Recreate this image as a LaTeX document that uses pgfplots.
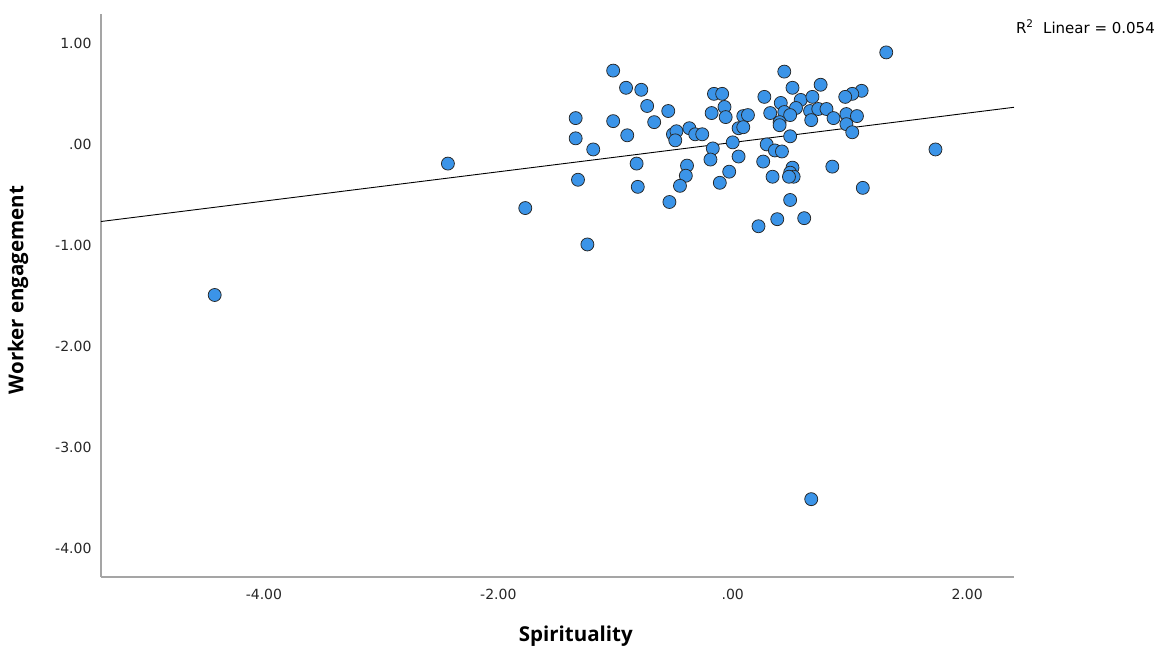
\documentclass[border=0pt]{standalone}
\usepackage{fontspec}
\setmainfont{DejaVu Sans}
\newfontfamily\labelfont{Open Sans}
\usepackage{pgfplots}
\pgfplotsset{compat=1.18}
\definecolor{ptblue}{RGB}{59,148,232}
\definecolor{axgray}{RGB}{165,165,165}
\begin{document}
\begin{tikzpicture}[x=1pt,y=1pt]
\useasboundingbox (-101,-79) rectangle (1075,577);
\begin{axis}[
  at={(0,0)}, anchor=south west,
  scale only axis, width=913pt, height=563pt,
  xmin=-5.39, xmax=2.40, ymin=-4.28, ymax=1.29,
  axis x line*=bottom, axis y line*=left,
  axis line style={axgray, line width=1.5pt, -},
  xtick={-4,-2,0,2}, xticklabels={-4.00,-2.00,.00,2.00},
  ytick={-4,-3,-2,-1,0,1}, yticklabels={-4.00,-3.00,-2.00,-1.00,.00,1.00},
  major tick length=0pt,
  tick label style={font=\fontsize{14}{16}\selectfont, text=black!85},
  xticklabel style={anchor=center, yshift=-17pt},
  yticklabel style={anchor=east, xshift=-6pt},
  xlabel={Spirituality}, ylabel={Worker engagement},
  xlabel style={at={(axis description cs:0.52,-0.1048)}, anchor=center, font=\labelfont\bfseries\fontsize{20.5}{22}\selectfont},
  ylabel style={at={(axis description cs:-0.0909,0.51)}, anchor=center, font=\labelfont\bfseries\fontsize{20.5}{22}\selectfont},
  clip=false,
]
\addplot[black, line width=0.9pt] coordinates {(-5.39,-0.763) (2.40,0.367)};
\addplot[only marks, mark=*, mark size=6.5pt, mark options={fill=ptblue, draw=black!85, line width=0.75pt}] table {
x y
-4.42 -1.49
-2.43 -0.19
-1.77 -0.63
-1.24 -0.99
0.67 -3.51
1.73 -0.05
1.31 0.91
-1.02 0.73
-0.91 0.56
-0.78 0.54
-1.34 0.26
-1.02 0.23
-0.73 0.38
-0.67 0.22
-0.55 0.33
-1.34 0.06
-1.19 -0.05
-0.90 0.09
-0.51 0.10
-0.48 0.13
-0.49 0.04
-0.37 0.16
-0.32 0.10
-0.26 0.10
-0.16 0.50
-0.09 0.50
-0.07 0.37
-0.18 0.31
-0.06 0.27
0.05 0.16
0.00 0.02
-0.17 -0.04
-0.19 -0.15
0.05 -0.12
-0.82 -0.19
-1.32 -0.35
-0.39 -0.21
-0.40 -0.31
-0.03 -0.27
-0.81 -0.42
-0.45 -0.41
-0.11 -0.38
-0.54 -0.57
0.44 0.72
0.51 0.56
0.75 0.59
0.27 0.47
1.10 0.53
1.02 0.50
0.96 0.47
0.41 0.41
0.58 0.44
0.68 0.47
0.32 0.31
0.44 0.32
0.54 0.36
0.49 0.29
0.66 0.33
0.73 0.35
0.80 0.35
0.67 0.24
0.86 0.26
0.97 0.30
1.06 0.28
0.97 0.20
1.02 0.12
0.09 0.28
0.13 0.29
0.09 0.17
0.40 0.22
0.40 0.19
0.49 0.08
0.29 0.00
0.36 -0.06
0.42 -0.07
0.26 -0.17
0.85 -0.22
0.34 -0.32
0.51 -0.23
0.49 -0.28
0.52 -0.32
0.48 -0.32
1.11 -0.43
0.49 -0.55
0.38 -0.74
0.61 -0.73
0.22 -0.81
};
\node[anchor=base west, inner sep=0pt, font=\fontsize{15}{17}\selectfont] at (axis description cs:1.002,0.966) {R\textsuperscript{2}\ \ Linear\ =\ 0.054};
\end{axis}
\end{tikzpicture}
\end{document}
